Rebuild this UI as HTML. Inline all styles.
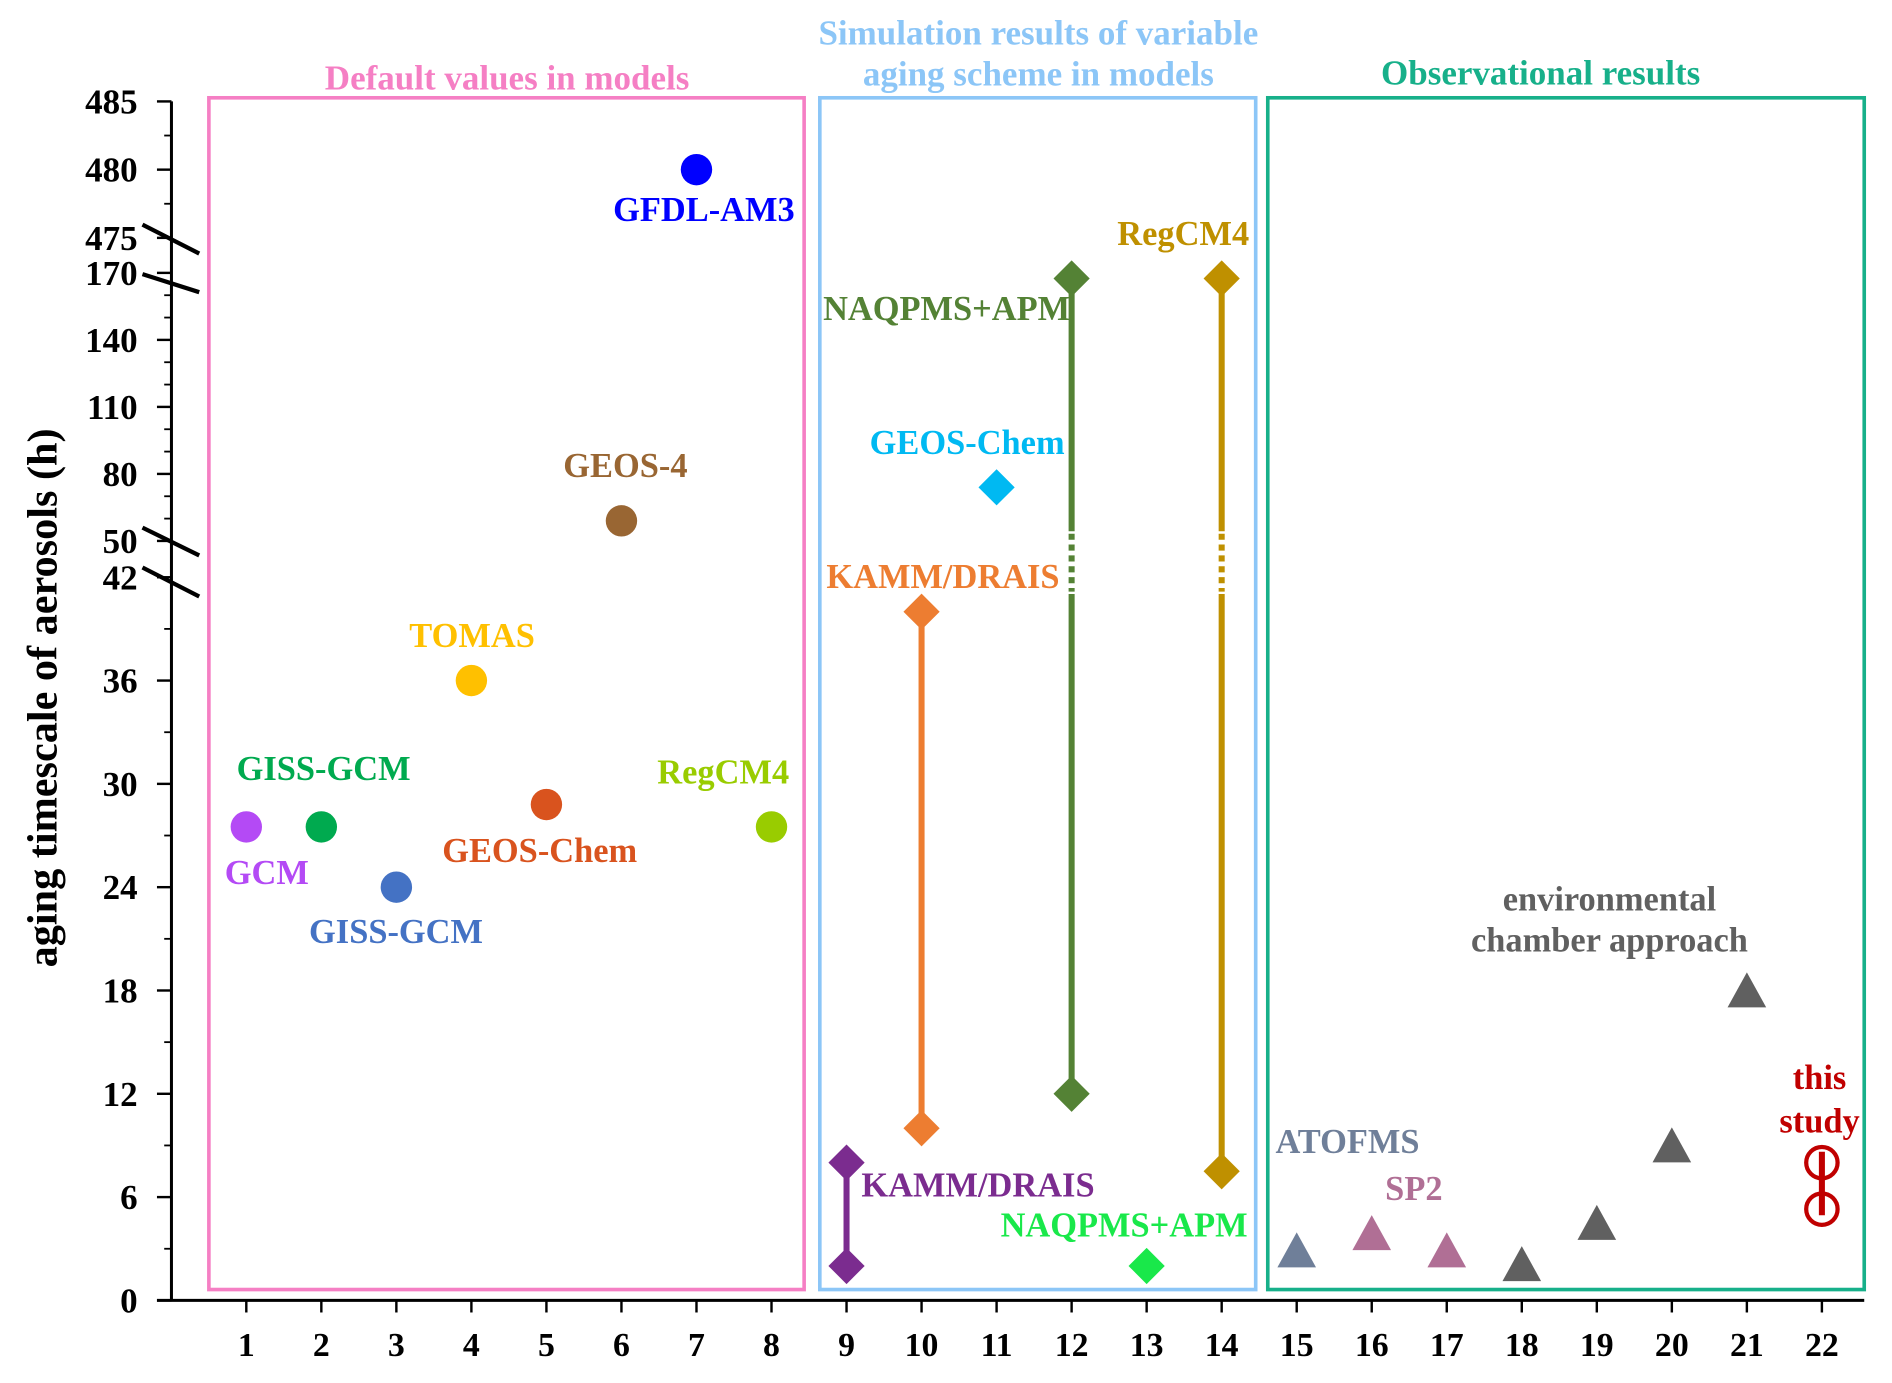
<!DOCTYPE html>
<html><head><meta charset="utf-8"><style>
html,body{margin:0;padding:0;background:#fff}
svg{display:block}
text{font-family:"Liberation Serif",serif;font-weight:bold}
</style></head><body>
<svg id="chart" width="1892" height="1383" viewBox="0 0 1567 1145.4" preserveAspectRatio="none" xmlns="http://www.w3.org/2000/svg">
<g id="g"></g>
</svg>
<script>
// ---- data ----
const circleX = [1,2,3,4,5,6,7,8];
const circleY = [27.5,27.5,24,36,28.8,59,480,27.5];
const circleColors = ['#b44af5','#00aa4f','#4472c4','#ffc000','#d9531e','#996633','#0000ff','#99cc00'];
const rangeX = [9,10,12,14];
const rangeHi = [8,40,167.5,167.5];
const rangeLo = [2,10,12,7.5];
const rangeColors = ['#7b2c8f','#ed7d31','#548235','#bf9000'];
const singleDiamondX = [11,13];
const singleDiamondY = [74,2];
const singleDiamondColors = ['#00b9f2','#19e84a'];
const triX = [15,16,17,18,19,20,21];
const triY = [2.9,3.9,2.9,2.1,4.5,9,18];
const triColors = ['#6f7f99','#b06f95','#b06f95','#606060','#606060','#606060','#606060'];
const studyX = 22;
const studyHi = 8;
const studyLo = 5.3;
const yTicks1 = [0,6,12,18,24,30,36,42];
const yTicks2 = [50,80,110,140,170];
const yTicks3 = [475,480,485];
const xTicks = [1,2,3,4,5,6,7,8,9,10,11,12,13,14,15,16,17,18,19,20,21,22];

// ---- scales ----
function X(v){return 204+(v-1)*62.14;}
function Y(v){
  if(v<=42) return 1077-v*14.26;
  if(v<=170) return 448-(v-50)*1.85;
  return 197-(v-475)*11.3;
}
const NS='http://www.w3.org/2000/svg';
const g=document.getElementById('g');
function el(t,a,txt){const e=document.createElementNS(NS,t);for(const k in a)e.setAttribute(k,a[k]);if(txt!==undefined)e.textContent=txt;g.appendChild(e);return e;}

let b;
b=el('rect',{x:173,y:81,width:493,height:987,fill:'none',stroke:'#f57fc4','stroke-width':3});


b=el('rect',{x:679,y:81,width:361,height:987,fill:'none',stroke:'#8cc6f7','stroke-width':3});


b=el('rect',{x:1050,y:81,width:494,height:987,fill:'none',stroke:'#17b08a','stroke-width':3});



function label(x,y,s,c,name,size,anchor){const t=el('text',{x:x,y:y,fill:c,'font-size':size||28.5,'text-anchor':anchor||'middle'},s);

return t;}
label(420,74,'Default values in models','#f57fc4','title-default',29);
label(860,37,'Simulation results of variable','#8cc6f7','title-simulation-1',29);
label(860,71,'aging scheme in models','#8cc6f7','title-simulation-2',29);
label(1276,70,'Observational results','#17b08a','title-observation',29);

let a=el('line',{x1:142,y1:84,x2:142,y2:1077,stroke:'#000','stroke-width':2.5});


a=el('line',{x1:130,y1:1077,x2:1544,y2:1077,stroke:'#000','stroke-width':2.5});


function ytick(v,lab){el('line',{x1:130,y1:Y(v),x2:142,y2:Y(v),stroke:'#000','stroke-width':2});
 if(lab){const t=el('text',{x:114,y:Y(v)+10,'font-size':29,'text-anchor':'end',fill:'#000'},String(v));
 
 }}
function ymin(v){el('line',{x1:136,y1:Y(v),x2:142,y2:Y(v),stroke:'#000','stroke-width':1.5});}
yTicks1.forEach(v=>{ytick(v,true); if(v<42) ymin(v+3);});
yTicks2.forEach((v,i)=>{ytick(v,true); if(i<yTicks2.length-1){ymin(v+10);ymin(v+20);}});
yTicks3.forEach((v,i)=>{ytick(v,true); if(i<yTicks3.length-1){ymin(v+2.5);}});
[[186,210],[227,242],[437,460],[470,494]].forEach(p=>{el('line',{x1:118,y1:p[0],x2:165,y2:p[1],stroke:'#000','stroke-width':3.5});});
xTicks.forEach(v=>{el('line',{x1:X(v),y1:1077,x2:X(v),y2:1087,stroke:'#000','stroke-width':2});
 const t=el('text',{x:X(v),y:1123,'font-size':28,'text-anchor':'middle',fill:'#000'},String(v));
 
 });
const yt=el('text',{x:0,y:0,'font-size':35,'text-anchor':'middle',fill:'#000',transform:'translate(47,578) rotate(-90)'},'aging timescale of aerosols (h)');



circleX.forEach((x,i)=>{const c=el('circle',{cx:X(x),cy:Y(circleY[i]),r:13,fill:circleColors[i]});

});
function diamond(x,y,col){const d=el('path',{d:`M${x-15},${y} L${x},${y-15} L${x+15},${y} L${x},${y+15} Z`,fill:col});

}
rangeX.forEach((x,i)=>{const px=X(x),y1=Y(rangeHi[i]),y2=Y(rangeLo[i]);
 if(rangeHi[i]>42){
  el('line',{x1:px,y1:y1,x2:px,y2:440,stroke:rangeColors[i],'stroke-width':5});
  el('line',{x1:px,y1:442,x2:px,y2:490,stroke:rangeColors[i],'stroke-width':5,'stroke-dasharray':'5,4'});
  const l=el('line',{x1:px,y1:492,x2:px,y2:y2,stroke:rangeColors[i],'stroke-width':5});
  
  
 } else {
  const l=el('line',{x1:px,y1:y1,x2:px,y2:y2,stroke:rangeColors[i],'stroke-width':5});
  
  
 }
 diamond(px,y1,rangeColors[i]);diamond(px,y2,rangeColors[i]);});
singleDiamondX.forEach((x,i)=>diamond(X(x),Y(singleDiamondY[i]),singleDiamondColors[i]));
triX.forEach((x,i)=>{const px=X(x),py=Y(triY[i]);const t=el('path',{d:`M${px-16},${py+14} L${px},${py-15} L${px+16},${py+14} Z`,fill:triColors[i]});

});
{const px=X(studyX),a1=Y(studyHi),a2=Y(studyLo);
 const l=el('line',{x1:px,y1:a1-9,x2:px,y2:a2+5,stroke:'#c00000','stroke-width':5});
 
 
 [a1,a2].forEach(yy=>{const c=el('circle',{cx:px,cy:yy,r:13,fill:'none',stroke:'#c00000','stroke-width':3.5});
 
 });}

label(583,183,'GFDL-AM3','#0000ff','label-gfdl-am3');
label(518,395,'GEOS-4','#996633','label-geos-4');
label(391,536,'TOMAS','#ffc000','label-tomas');
label(268,646,'GISS-GCM','#00aa4f','label-giss-gcm-2');
label(599,649,'RegCM4','#99cc00','label-regcm4-default');
label(221,732,'GCM','#b44af5','label-gcm');
label(447,714,'GEOS-Chem','#d9531e','label-geos-chem-default');
label(328,781,'GISS-GCM','#4472c4','label-giss-gcm-3');
label(784,265,'NAQPMS+APM','#548235','label-naqpms-12');
label(980,203,'RegCM4','#bf9000','label-regcm4-sim');
label(801,376,'GEOS-Chem','#00b9f2','label-geos-chem-sim');
label(781,487,'KAMM/DRAIS','#ed7d31','label-kamm-10');
label(810,991,'KAMM/DRAIS','#7b2c8f','label-kamm-9');
label(931,1024,'NAQPMS+APM','#19e84a','label-naqpms-13');
label(1116,955,'ATOFMS','#6f7f99','label-atofms');
label(1171,994,'SP2','#b06f95','label-sp2');
label(1333,754,'environmental','#606060','label-chamber-1');
label(1333,788,'chamber approach','#606060','label-chamber-2');
label(1507,902,'this','#c00000','label-this-study-1');
label(1507,938,'study','#c00000','label-this-study-2');
</script>
</body></html>
